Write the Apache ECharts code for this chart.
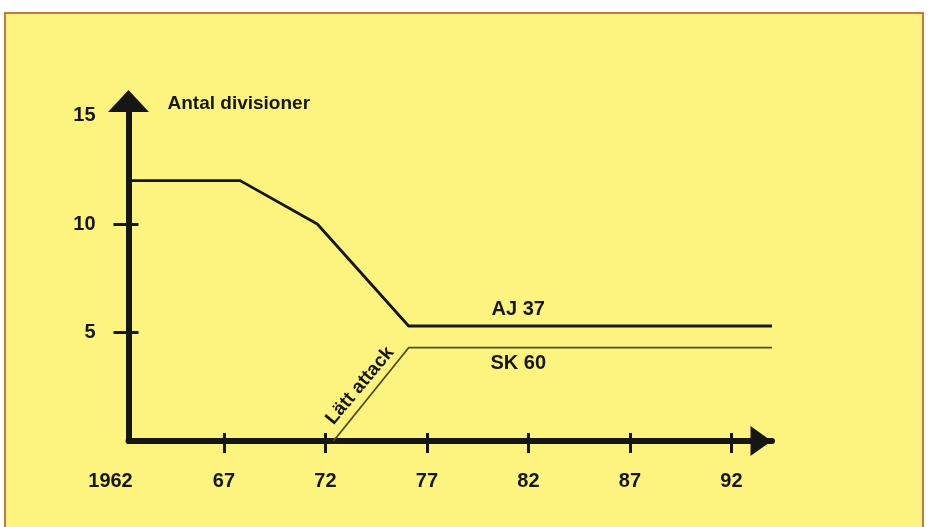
<!DOCTYPE html>
<html>
<head>
<meta charset="utf-8">
<script src="https://cdn.jsdelivr.net/npm/echarts@6/dist/echarts.min.js"></script>
<style>
  html, body { margin: 0; padding: 0; background: #fff; }
  .frame {
    position: absolute; left: 4px; top: 12px; width: 916px; height: 540px;
    background: #fcf47f; border: 2px solid #c27a40;
  }
  #chart { position: absolute; left: 0; top: 0; width: 930px; height: 527px; }
</style>
</head>
<body>
<div class="frame"></div>
<div id="chart"></div>
<script>
// data
const xStart = 1962.3; // origin of the time axis
const xEnd = 1994;
const xTickYears = [1967, 1972, 1977, 1982, 1987, 1992];
const xLabelYears = [xStart, 1967, 1972, 1977, 1982, 1987, 1992];
const xLabels = ['1962', '67', '72', '77', '82', '87', '92'];
const yTicks = [5, 10];
const yLabels = [5, 10, 15];
const yMax = 15.67;

const ajYears = [1962.3, 1967.8, 1971.6, 1976.1, 1994];
const ajValues = [12, 12, 10, 5.3, 5.3];
const skYears = [1972.4, 1976.1, 1994];
const skValues = [0, 4.3, 4.3];

const font = '"Liberation Sans", Arial, sans-serif';
const ink = '#161616';

function pairs(xs, ys) {
  return xs.map((x, i) => [x, ys[i]]);
}

let chart = echarts.init(document.getElementById('chart'));

let textStyle = {
  color: ink,
  fontFamily: font,
  fontWeight: 'bold',
  fontSize: 20,
};

let option = {
  animation: false,
  backgroundColor: 'transparent',
  grid: {
    left: 128.5,
    right: 158,
    top: 101,
    bottom: 86,
  },
  xAxis: [
    {
      type: 'value',
      min: xStart,
      max: xEnd,
      position: 'bottom',
      splitLine: { show: false },
      axisLine: {
        onZero: false,
        symbol: ['none', 'triangle'],
        symbolSize: [30, 21],
        symbolOffset: [0, -11],
        lineStyle: { color: ink, width: 6 },
      },
      axisTick: {
        customValues: xTickYears,
        length: 12,
        lineStyle: { color: ink, width: 3 },
      },
      axisLabel: {
        customValues: xLabelYears,
        margin: 30,
        ...textStyle,
        formatter: v => {
          let label = xLabels[xLabelYears.indexOf(v)];
          return v === xStart ? '{first|' + label + '}' : label;
        },
        rich: {
          first: { ...textStyle, padding: [0, 36, 0, 0] },
        },
      },
    },
    {
      // inner half of the x ticks
      type: 'value',
      min: xStart,
      max: xEnd,
      position: 'bottom',
      splitLine: { show: false },
      axisLine: { show: false, onZero: false },
      axisTick: {
        customValues: xTickYears,
        inside: true,
        length: 8,
        lineStyle: { color: ink, width: 3 },
      },
      axisLabel: { show: false },
    },
  ],
  yAxis: [
    {
      type: 'value',
      min: 0,
      max: yMax,
      position: 'left',
      name: 'Antal divisioner',
      nameLocation: 'end',
      nameGap: -3,
      nameTextStyle: {
        ...textStyle,
        fontSize: 19,
        align: 'left',
        verticalAlign: 'middle',
        padding: [0, 0, 0, 39],
      },
      splitLine: { show: false },
      axisLine: {
        onZero: false,
        symbol: ['none', 'triangle'],
        symbolSize: [41, 22],
        lineStyle: { color: ink, width: 6 },
      },
      axisTick: {
        customValues: yTicks,
        length: 15,
        lineStyle: { color: ink, width: 3 },
      },
      axisLabel: {
        customValues: yLabels,
        margin: 33,
        ...textStyle,
      },
    },
    {
      // inner half of the y ticks
      type: 'value',
      min: 0,
      max: yMax,
      position: 'left',
      splitLine: { show: false },
      axisLine: { show: false, onZero: false },
      axisTick: {
        customValues: yTicks,
        inside: true,
        length: 10,
        lineStyle: { color: ink, width: 3 },
      },
      axisLabel: { show: false },
    },
  ],
  series: [
    {
      name: 'AJ 37',
      type: 'line',
      data: pairs(ajYears, ajValues),
      showSymbol: false,
      clip: false,
      silent: true,
      lineStyle: { color: ink, width: 2.8 },
      markPoint: {
        symbol: 'circle',
        symbolSize: 0,
        silent: true,
        label: { show: true, position: 'inside', formatter: '{b}', ...textStyle },
        data: [{ name: 'AJ 37', coord: [1981.5, 6.08] }],
      },
    },
    {
      name: 'SK 60',
      type: 'line',
      data: pairs(skYears, skValues),
      showSymbol: false,
      clip: false,
      silent: true,
      lineStyle: { color: '#4f4a1c', width: 1.8 },
      markPoint: {
        symbol: 'circle',
        symbolSize: 0,
        silent: true,
        label: { show: true, position: 'inside', formatter: '{b}', ...textStyle },
        data: [
          { name: 'SK 60', coord: [1981.5, 3.55] },
          {
            name: 'Lätt attack',
            coord: [1973.7, 2.55],
            label: { rotate: 50, fontSize: 19 },
          },
        ],
      },
    },
  ],
};

chart.setOption(option);
</script>
</body>
</html>
